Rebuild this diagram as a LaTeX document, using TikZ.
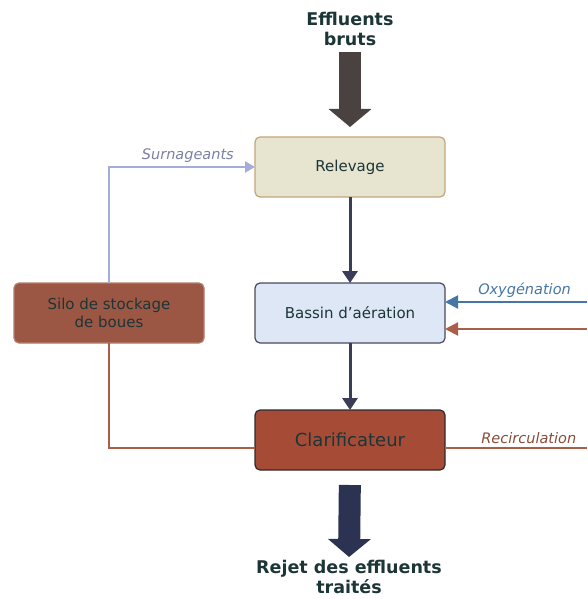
\documentclass[tikz,border=0pt]{standalone}
\usepackage{fontspec}
\setmainfont{DejaVu Sans}
\usepackage{xcolor}
\usepackage{tikz}
\usetikzlibrary{positioning,arrows.meta}

\definecolor{textdark}{HTML}{1C3536}
\definecolor{relevfill}{HTML}{E7E4D0}
\definecolor{relevdraw}{HTML}{C4A57A}
\definecolor{bassinfill}{HTML}{DEE7F6}
\definecolor{bassindraw}{HTML}{4A4A5C}
\definecolor{clarfill}{HTML}{A64C36}
\definecolor{clardraw}{HTML}{2C2C2C}
\definecolor{silofill}{HTML}{9B5743}
\definecolor{silodraw}{HTML}{B07E6C}
\definecolor{flowdark}{HTML}{3A3D58}
\definecolor{topgray}{HTML}{4A4240}
\definecolor{navy}{HTML}{2C3352}
\definecolor{surnblue}{HTML}{A3ACDA}
\definecolor{oxyblue}{HTML}{4676A6}
\definecolor{recirc}{HTML}{AA6048}

\begin{document}
\begin{tikzpicture}[x=1pt, y=-1pt,
		block/.style={rectangle, rounded corners=5pt, very thick, outer sep=0pt, minimum width=190pt, minimum height=60pt, text=textdark, font=\fontsize{15}{18}\selectfont},
		title/.style={align=center, anchor=north, inner sep=0pt, text=textdark, font=\bfseries\fontsize{17.5}{20}\selectfont},
		tag/.style={font=\itshape\fontsize{14.5}{17}\selectfont},
		flow/.style={draw=flowdark, line width=3pt, -{Triangle[width=15pt,length=12pt]}},
		bigflow/.style={line width=22pt, -{Triangle[width=42pt,length=18pt]}},
		]
		\useasboundingbox (0,0) rectangle (587,599);

		%Main Nodes
		\node[block, fill=relevfill, draw=relevdraw]	(relevage)	at (350,167)			{Relevage};
		\node[block, fill=bassinfill, draw=bassindraw]	(bassin)	[below=86pt of relevage]	{Bassin d'aération};
		\node[block, fill=clarfill, draw=clardraw, font=\fontsize{18}{21}\selectfont]	(clarif)	[below=67pt of bassin]	{Clarificateur};
		\node[block, fill=silofill, draw=silodraw, align=center]	(silo)	[left=51pt of bassin]	{Silo de stockage\\de boues};

		%Inlet and outlet
		\node[title]	(effluents)	at (350,12)		{Effluents\\bruts};
		\node[title]	(rejet)		at (349,560)	{Rejet des effluents\\traités};
		\draw[bigflow, draw=topgray, shorten <=6pt, shorten >=10pt]	(effluents.south)	--	(relevage.north);
		\draw[bigflow, draw=navy, shorten <=15pt, shorten >=3pt]	(clarif.south)	--	(rejet.north);

		%Main Lines
		\draw[flow]	(relevage.south)	--	(bassin.north);
		\draw[flow]	(bassin.south)		--	(clarif.north);

		%Sludge lines
		\draw[draw=surnblue, line width=2.5pt, -{Triangle[width=11pt,length=10pt]}]	(silo.north)	|-	(relevage.west)
			node[pos=0.77, above, tag, text=surnblue!75!black] {Surnageants};
		\draw[draw=recirc, line width=2pt]	(silo.south)	|-	([yshift=-8pt]clarif.west);

		%Right side
		\coordinate	(oxy_in)	at (587,302);
		\coordinate	(ret_in)	at (587,329);
		\coordinate	(rec_out)	at (587,448);
		\draw[draw=oxyblue, line width=2pt, -{Triangle[width=13pt,length=13pt]}]	(oxy_in)	--	([yshift=11pt]bassin.east)
			node[pos=0.44, above, tag, text=oxyblue] {Oxygénation};
		\draw[draw=recirc, line width=2pt, -{Triangle[width=13pt,length=13pt]}]	(ret_in)	--	([yshift=-16pt]bassin.east);
		\draw[draw=recirc, line width=2pt]	([yshift=-8pt]clarif.east)	--	(rec_out)
			node[pos=0.59, above, tag, text=recirc!80!black] {Recirculation};

	\end{tikzpicture}
\end{document}
